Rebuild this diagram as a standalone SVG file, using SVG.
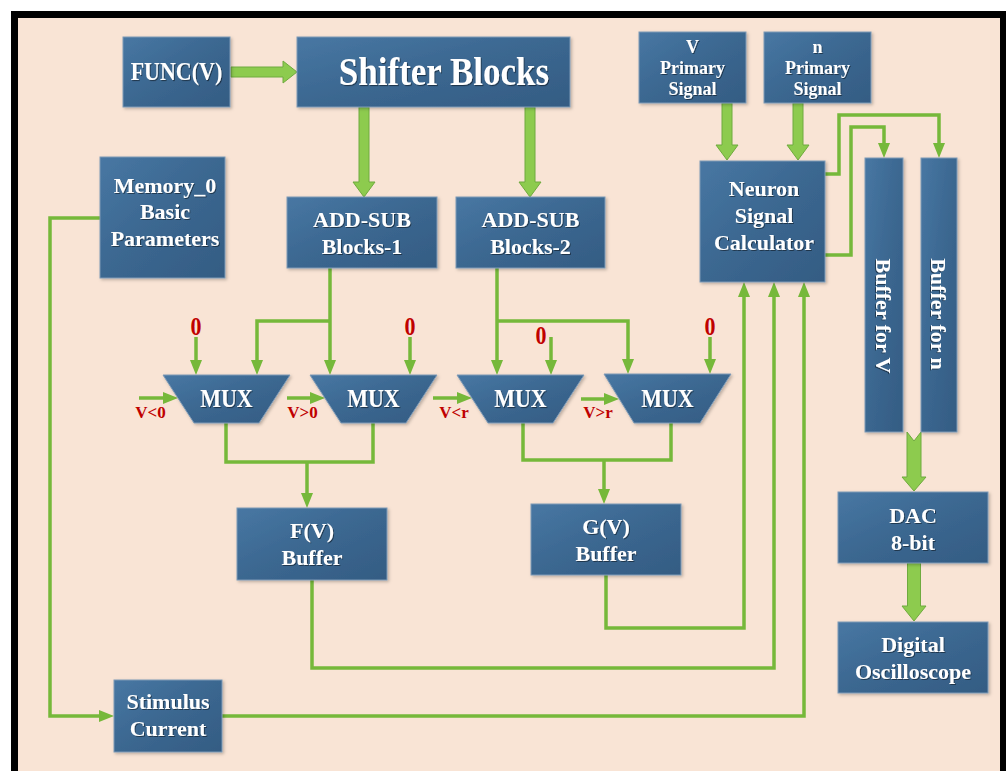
<svg xmlns="http://www.w3.org/2000/svg" width="1006" height="771" viewBox="0 0 1006 771">
<defs>
<linearGradient id="g" x1="0" y1="0" x2="1" y2="1">
<stop offset="0" stop-color="#4877A3"/>
<stop offset="0.5" stop-color="#3B6790"/>
<stop offset="1" stop-color="#345C83"/>
</linearGradient>
<filter id="ts" x="-10%" y="-20%" width="130%" height="150%">
<feDropShadow dx="1" dy="1" stdDeviation="0.7" flood-color="#000" flood-opacity="0.45"/>
</filter>
<filter id="bs" x="-10%" y="-10%" width="130%" height="130%">
<feDropShadow dx="1.5" dy="1.5" stdDeviation="1.5" flood-color="#000" flood-opacity="0.25"/>
</filter>
<marker id="ah" markerUnits="userSpaceOnUse" markerWidth="15" markerHeight="12" viewBox="0 0 15 12" refX="5" refY="6" orient="auto">
<path d="M0,0 L15,6 L0,12 z" fill="#76B83A"/>
</marker>
<style>
.node rect, .node polygon { fill: url(#g); stroke: #7E9AB6; stroke-width: 1; filter: url(#bs); }
.lbl { font-family: "Liberation Serif", "Times New Roman", serif; font-weight: bold; fill: #FFFFFF; text-anchor: middle; font-size: 22px; filter: url(#ts); }
.red { font-family: "Liberation Serif", "Times New Roman", serif; font-weight: bold; fill: #C00000; text-anchor: middle; font-size: 17px; }
.zero { font-size: 22px; }
.st { transform-box: fill-box; transform-origin: center; transform: scaleY(1.12); }
.wire { fill: none; stroke: #76B83A; stroke-width: 3.5; }
.arr { marker-end: url(#ah); }
.blk { fill: #8DCB4E; stroke: #6FAA3E; stroke-width: 1; }
</style>
</defs>

<rect x="0" y="0" width="1006" height="771" fill="#FFFFFF"/>
<rect x="14.5" y="14.5" width="989" height="800" fill="#F9E4D5" stroke="#000000" stroke-width="7"/>

<g id="connectors">
<polygon class="blk" points="231,67 283,67 283,61 297,72 283,83 283,77 231,77"/>
<polygon class="blk" points="359,107 369,107 369,182 375,182 364,197 353,182 359,182"/>
<polygon class="blk" points="525,107 535,107 535,182 541,182 530,197 519,182 525,182"/>
<polygon class="blk" points="722,103 732,103 732,145 738,145 727,160 716,145 722,145"/>
<polygon class="blk" points="793,103 803,103 803,145 809,145 798,160 787,145 793,145"/>
<polygon class="blk" points="907,432 914,441 921,432 921,477 926,477 914,491 902,477 907,477"/>
<polygon class="blk" points="907.5,563 920.5,563 920.5,606 926,606 914,621 902,606 907.5,606"/>

<path class="wire arr" d="M100,218 H50 V716 H104"/>
<path class="wire arr" d="M222,716 H804 V292"/>
<path class="wire arr" d="M312,580 V668 H774 V292"/>
<path class="wire arr" d="M606,575 V628 H744 V292"/>
<path class="wire arr" d="M330,268 V365"/>
<path class="wire arr" d="M330,321 H257 V365"/>
<path class="wire arr" d="M497,268 V365"/>
<path class="wire arr" d="M497,321 H628 V364"/>
<path class="wire arr" d="M196,337 V365"/>
<path class="wire arr" d="M410,337 V365"/>
<path class="wire arr" d="M551,337 V365"/>
<path class="wire arr" d="M710,337 V364"/>
<path class="wire arr" d="M139,398 H168"/>
<path class="wire arr" d="M287,398 H315"/>
<path class="wire arr" d="M433,398 H462"/>
<path class="wire arr" d="M581,399 H609"/>
<path class="wire" d="M226,423 V462 H373 V423"/>
<path class="wire arr" d="M307,462 V498"/>
<path class="wire" d="M523,423 V460 H671 V423"/>
<path class="wire arr" d="M604,460 V494"/>
<path class="wire arr" d="M825,174 H839 V115 H939 V148"/>
<path class="wire arr" d="M825,255 H851 V127 H884 V148"/>
</g>

<g id="func" class="node">
<rect x="123" y="37" width="107" height="70"/>
<text class="lbl st" x="176.5" y="79" font-size="21">FUNC(V)</text>
</g>
<g id="shifter" class="node">
<rect x="297" y="37" width="273" height="70"/>
<text class="lbl st" x="444" y="84" style="font-size:35px">Shifter Blocks</text>
</g>
<g id="vprimary" class="node">
<rect x="639" y="32" width="107" height="71"/>
<text class="lbl" style="font-size:18px"><tspan x="692.5" y="53">V</tspan><tspan x="692.5" y="74">Primary</tspan><tspan x="692.5" y="95">Signal</tspan></text>
</g>
<g id="nprimary" class="node">
<rect x="764" y="32" width="107" height="71"/>
<text class="lbl" style="font-size:18px"><tspan x="817.5" y="53">n</tspan><tspan x="817.5" y="74">Primary</tspan><tspan x="817.5" y="95">Signal</tspan></text>
</g>
<g id="memory" class="node">
<rect x="100" y="157" width="125" height="121"/>
<text class="lbl"><tspan x="165" y="193">Memory_0</tspan><tspan x="165" y="219">Basic</tspan><tspan x="165" y="246">Parameters</tspan></text>
</g>
<g id="addsub1" class="node">
<rect x="287" y="197" width="150" height="71"/>
<text class="lbl"><tspan x="362" y="227">ADD-SUB</tspan><tspan x="362" y="254">Blocks-1</tspan></text>
</g>
<g id="addsub2" class="node">
<rect x="456" y="197" width="149" height="71"/>
<text class="lbl"><tspan x="530.5" y="227">ADD-SUB</tspan><tspan x="530.5" y="254">Blocks-2</tspan></text>
</g>
<g id="neuron" class="node">
<rect x="700" y="161" width="125" height="121"/>
<text class="lbl"><tspan x="764" y="196">Neuron</tspan><tspan x="764" y="223">Signal</tspan><tspan x="764" y="250">Calculator</tspan></text>
</g>
<g id="bufv" class="node">
<rect x="865" y="158" width="38" height="274"/>
<text class="lbl" transform="translate(884,316) rotate(90)" x="0" y="8">Buffer for V</text>
</g>
<g id="bufn" class="node">
<rect x="921" y="158" width="36" height="274"/>
<text class="lbl" transform="translate(939,314) rotate(90)" x="0" y="8">Buffer for n</text>
</g>

<g id="mux1" class="node">
<polygon points="163,375 290,375 259,423 194,423"/>
<text class="lbl st" x="226.5" y="406">MUX</text>
</g>
<g id="mux2" class="node">
<polygon points="310,375 437,375 406,423 341,423"/>
<text class="lbl st" x="373.5" y="406">MUX</text>
</g>
<g id="mux3" class="node">
<polygon points="457,375 584,375 553,423 488,423"/>
<text class="lbl st" x="520.5" y="406">MUX</text>
</g>
<g id="mux4" class="node">
<polygon points="604,374 731,374 700,423 634,423"/>
<text class="lbl st" x="667.5" y="406">MUX</text>
</g>

<g id="labels">
<text class="red zero st" x="196" y="334">0</text>
<text class="red zero st" x="410" y="334">0</text>
<text class="red zero st" x="541" y="343">0</text>
<text class="red zero st" x="710" y="334">0</text>
<text class="red" x="150.5" y="418">V&lt;0</text>
<text class="red" x="302.5" y="418">V&gt;0</text>
<text class="red" x="454" y="418">V&lt;r</text>
<text class="red" x="598" y="418">V&gt;r</text>
</g>

<g id="fbuf" class="node">
<rect x="237" y="508" width="150" height="72"/>
<text class="lbl"><tspan x="312" y="538">F(V)</tspan><tspan x="312" y="565">Buffer</tspan></text>
</g>
<g id="gbuf" class="node">
<rect x="531" y="504" width="150" height="71"/>
<text class="lbl"><tspan x="606" y="534">G(V)</tspan><tspan x="606" y="561">Buffer</tspan></text>
</g>
<g id="dac" class="node">
<rect x="838" y="492" width="150" height="71"/>
<text class="lbl"><tspan x="913" y="523">DAC</tspan><tspan x="913" y="550">8-bit</tspan></text>
</g>
<g id="scope" class="node">
<rect x="838" y="622" width="150" height="71"/>
<text class="lbl"><tspan x="913" y="652">Digital</tspan><tspan x="913" y="679">Oscilloscope</tspan></text>
</g>
<g id="stimulus" class="node">
<rect x="114" y="680" width="108" height="72"/>
<text class="lbl"><tspan x="168" y="709">Stimulus</tspan><tspan x="168" y="736">Current</tspan></text>
</g>
</svg>
